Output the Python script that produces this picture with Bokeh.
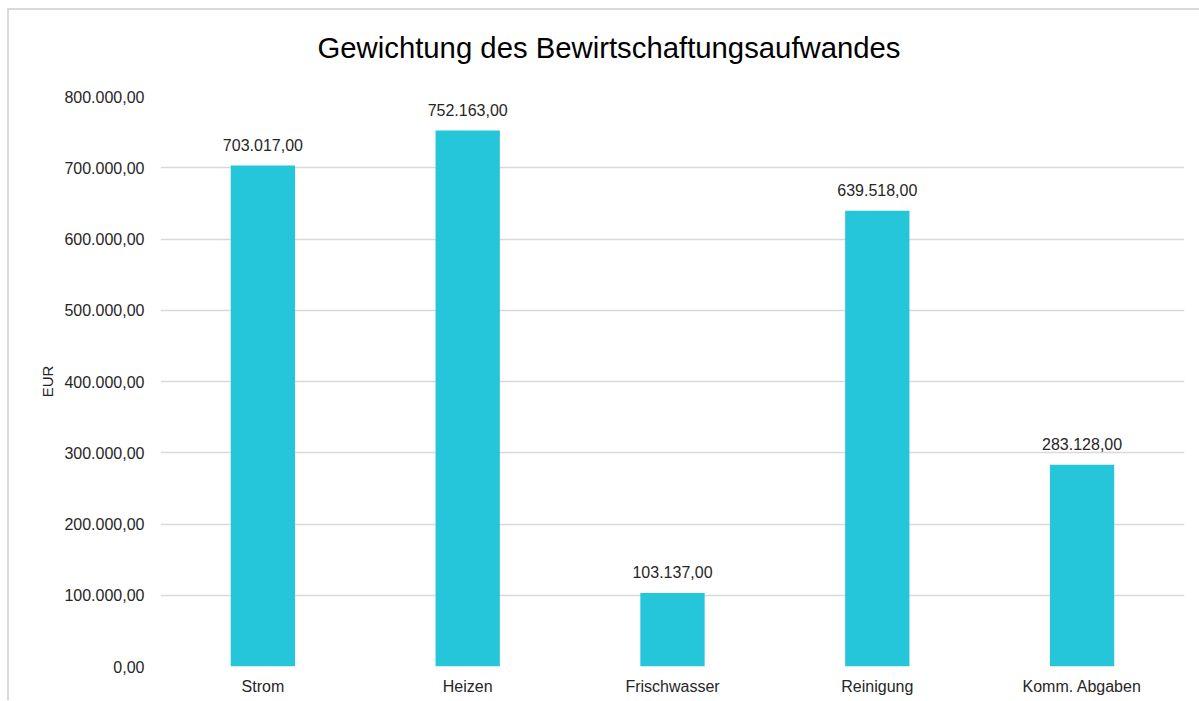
from bokeh.plotting import figure
from bokeh.models import ColumnDataSource, Range1d, FixedTicker, CustomJSTickFormatter, LabelSet, Title
from bokeh.core.properties import value
from bokeh.embed import file_html
from bokeh.resources import INLINE

categories = ["Strom", "Heizen", "Frischwasser", "Reinigung", "Komm. Abgaben"]
values = [703017.00, 752163.00, 103137.00, 639518.00, 283128.00]
y_ticks = [0, 100000, 200000, 300000, 400000, 500000, 600000, 700000, 800000]
title_text = "Gewichtung des Bewirtschaftungsaufwandes"


def de_fmt(v):
    s = f"{v:,.2f}"
    return s.replace(",", "X").replace(".", ",").replace("X", ".")


labels = [de_fmt(v) for v in values]
src = ColumnDataSource(dict(cat=categories, val=values, lab=labels))

FONT = "Liberation Sans"
TXT = "#262626"

p = figure(x_range=categories, y_range=Range1d(0, 800000), title=None,
           width=1192, height=692, output_backend="svg", toolbar_location=None,
           min_border_left=151, min_border_right=17, min_border_top=86, min_border_bottom=36)
p.styles = {"margin-left": "7px", "margin-top": "8px",
            "border-left": "2px solid #d9d9d9", "border-top": "2px solid #d9d9d9"}

p.vbar(x="cat", top="val", width=0.314, source=src, fill_color="#26C6DA", line_color=None)

p.add_layout(LabelSet(x="cat", y="val", text="lab", source=src, text_align="center",
                      text_baseline="bottom", y_offset=15, text_font=value(FONT),
                      text_font_size="16px", text_color=TXT))

# spacer between frame and title (closest to the frame), then the chart title
p.add_layout(Title(text=" ", text_font_size="1px", standoff=12), "above")
p.add_layout(Title(text=title_text, align="left", offset=157, text_font=FONT,
                   text_font_size="29.3px", text_font_style="normal",
                   text_color="#000000", standoff=36), "above")

p.yaxis.ticker = FixedTicker(ticks=y_ticks)
p.yaxis.formatter = CustomJSTickFormatter(code="""
const s = tick.toFixed(2).split('.');
const i = s[0].replace(/\\B(?=(\\d{3})+(?!\\d))/g, '.');
return i + ',' + s[1];
""")
p.yaxis.axis_label = "EUR"
p.yaxis.axis_label_text_font = FONT
p.yaxis.axis_label_text_font_size = "15px"
p.yaxis.axis_label_text_font_style = "normal"
p.yaxis.axis_label_text_color = TXT
p.yaxis.axis_label_standoff = 5

for ax in (p.xaxis, p.yaxis):
    ax.axis_line_color = None
    ax.major_tick_line_color = None
    ax.minor_tick_line_color = None
    ax.major_label_text_font = FONT
    ax.major_label_text_font_size = "16px"
    ax.major_label_text_color = TXT
p.yaxis.major_label_standoff = 10
p.xaxis.major_label_standoff = 5

p.xgrid.grid_line_color = None
p.ygrid.grid_line_color = "#d9d9d9"
p.ygrid.grid_line_width = 1.5
p.ygrid.ticker = FixedTicker(ticks=y_ticks)
p.outline_line_color = None
p.x_range.range_padding = 0.0

open("out.html", "w").write(file_html(p, INLINE))
